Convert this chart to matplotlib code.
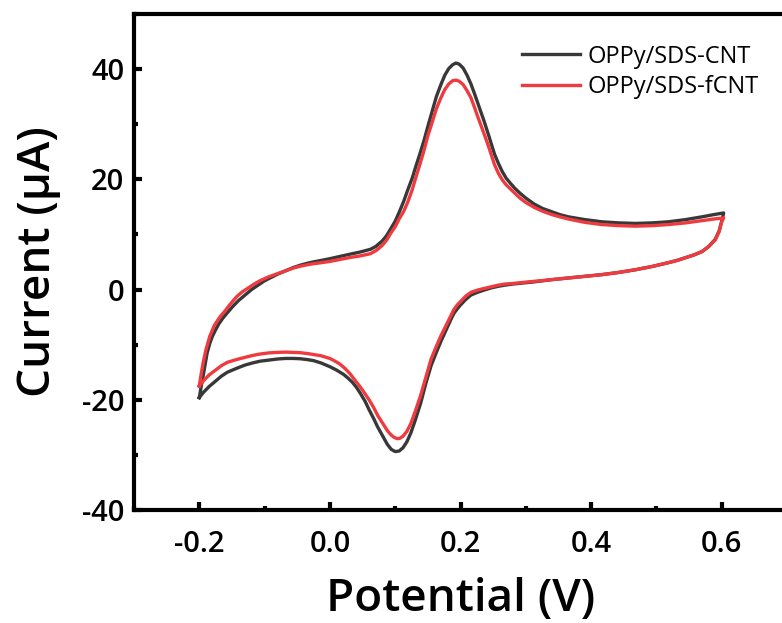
import matplotlib
matplotlib.use("Agg")
import matplotlib.pyplot as plt
from matplotlib.ticker import MultipleLocator

# ---- data ----
# OPPy/SDS-CNT : anodic (forward) sweep
cnt_fwd_potential = [-0.200, -0.197, -0.194, -0.191, -0.188, -0.184, -0.180, -0.175, -0.170, -0.164,
                     -0.157, -0.149, -0.140, -0.130, -0.120, -0.110, -0.100, -0.090, -0.080, -0.068,
                     -0.056, -0.043, -0.030, -0.015, 0.000, 0.015, 0.030, 0.046, 0.062, 0.070,
                     0.080, 0.087, 0.093, 0.100, 0.106, 0.113, 0.119, 0.126, 0.132, 0.138,
                     0.144, 0.150, 0.157, 0.163, 0.170, 0.176, 0.182, 0.188, 0.193, 0.198,
                     0.204, 0.210, 0.216, 0.221, 0.226, 0.231, 0.236, 0.242, 0.247, 0.252,
                     0.258, 0.264, 0.270, 0.277, 0.283, 0.291, 0.300, 0.313, 0.326, 0.340,
                     0.352, 0.365, 0.390, 0.416, 0.442, 0.468, 0.494, 0.519, 0.545, 0.570,
                     0.588, 0.603]
cnt_fwd_current = [-19.6, -17.5, -15.6, -13.5, -11.5, -9.8, -8.5, -7.3, -6.2, -5.2,
                   -4.2, -3.1, -2.0, -1.0, 0.0, 0.8, 1.6, 2.2, 2.8, 3.4,
                   4.0, 4.5, 4.9, 5.25, 5.6, 6.0, 6.4, 6.8, 7.3, 7.8,
                   8.8, 9.8, 11.0, 12.4, 14.0, 16.0, 18.0, 20.2, 22.5, 24.7,
                   27.0, 29.6, 32.5, 35.0, 37.2, 38.9, 40.1, 40.8, 41.1, 40.9,
                   40.2, 38.9, 37.3, 35.7, 34.0, 32.3, 30.6, 28.4, 26.5, 24.6,
                   22.9, 21.4, 20.2, 19.2, 18.4, 17.5, 16.6, 15.5, 14.7, 14.1,
                   13.6, 13.2, 12.7, 12.3, 12.1, 12.0, 12.1, 12.3, 12.7, 13.2,
                   13.6, 13.9]
# OPPy/SDS-CNT : cathodic (reverse) sweep
cnt_rev_potential = [0.600, 0.596, 0.590, 0.580, 0.570, 0.558, 0.545, 0.532, 0.519, 0.494,
                     0.468, 0.442, 0.416, 0.390, 0.365, 0.340, 0.313, 0.296, 0.280, 0.268,
                     0.258, 0.247, 0.236, 0.226, 0.216, 0.208, 0.200, 0.195, 0.190, 0.185,
                     0.180, 0.175, 0.170, 0.163, 0.155, 0.147, 0.139, 0.131, 0.124, 0.118,
                     0.112, 0.106, 0.100, 0.094, 0.088, 0.081, 0.073, 0.067, 0.060, 0.054,
                     0.047, 0.041, 0.035, 0.028, 0.021, 0.010, 0.000, -0.014, -0.025, -0.035,
                     -0.046, -0.056, -0.068, -0.080, -0.094, -0.107, -0.118, -0.130, -0.143, -0.157,
                     -0.166, -0.175, -0.185, -0.194, -0.200]
cnt_rev_current = [12.4, 10.6, 9.1, 7.8, 6.9, 6.3, 5.8, 5.3, 4.9, 4.2,
                   3.6, 3.1, 2.7, 2.4, 2.1, 1.8, 1.4, 1.2, 1.0, 0.8,
                   0.6, 0.3, -0.1, -0.5, -1.0, -1.8, -2.8, -3.5, -4.3, -5.5,
                   -6.8, -8.1, -9.4, -11.4, -13.8, -17.0, -20.6, -23.6, -26.0, -27.6,
                   -28.7, -29.3, -29.4, -29.0, -28.1, -26.6, -24.9, -23.4, -21.8, -20.3,
                   -18.9, -17.8, -16.9, -16.1, -15.4, -14.6, -14.0, -13.3, -12.9, -12.7,
                   -12.55, -12.5, -12.5, -12.6, -12.8, -13.0, -13.3, -13.7, -14.3, -15.0,
                   -15.7, -16.6, -17.6, -18.7, -19.6]

# OPPy/SDS-fCNT : anodic (forward) sweep
fcnt_fwd_potential = [-0.200, -0.197, -0.194, -0.190, -0.184, -0.177, -0.168, -0.160, -0.155, -0.148,
                      -0.142, -0.134, -0.125, -0.116, -0.107, -0.094, -0.080, -0.068, -0.056, -0.043,
                      -0.030, -0.015, 0.000, 0.015, 0.030, 0.046, 0.062, 0.071, 0.080, 0.087,
                      0.093, 0.100, 0.106, 0.113, 0.119, 0.126, 0.132, 0.138, 0.144, 0.150,
                      0.157, 0.163, 0.170, 0.176, 0.182, 0.188, 0.193, 0.198, 0.204, 0.210,
                      0.216, 0.221, 0.226, 0.231, 0.236, 0.242, 0.247, 0.252, 0.258, 0.264,
                      0.270, 0.277, 0.283, 0.291, 0.300, 0.313, 0.326, 0.340, 0.352, 0.365,
                      0.390, 0.416, 0.442, 0.468, 0.494, 0.519, 0.545, 0.570, 0.588, 0.603]
fcnt_fwd_current = [-17.5, -15.2, -13.2, -11.0, -8.5, -6.5, -4.9, -3.8, -3.0, -2.0,
                    -1.2, -0.4, 0.3, 1.0, 1.6, 2.3, 2.9, 3.4, 3.9, 4.3,
                    4.6, 4.85, 5.1, 5.45, 5.8, 6.1, 6.5, 7.1, 8.0, 9.0,
                    10.2, 11.4, 12.8, 14.2, 15.8, 18.1, 20.5, 22.8, 25.2, 27.9,
                    30.5, 32.8, 34.8, 36.3, 37.3, 37.9, 38.0, 37.8, 37.2, 36.1,
                    34.8, 33.2, 31.5, 29.9, 28.3, 26.3, 24.5, 22.7, 21.1, 19.9,
                    19.0, 18.2, 17.5, 16.6, 15.8, 14.9, 14.2, 13.6, 13.2, 12.8,
                    12.2, 11.8, 11.6, 11.5, 11.6, 11.8, 12.1, 12.5, 12.8, 13.0]
# OPPy/SDS-fCNT : cathodic (reverse) sweep
fcnt_rev_potential = [0.600, 0.596, 0.590, 0.580, 0.570, 0.558, 0.545, 0.532, 0.519, 0.494,
                      0.468, 0.442, 0.416, 0.390, 0.365, 0.340, 0.313, 0.296, 0.280, 0.268,
                      0.258, 0.247, 0.236, 0.226, 0.216, 0.208, 0.200, 0.195, 0.190, 0.185,
                      0.180, 0.175, 0.170, 0.163, 0.155, 0.147, 0.139, 0.131, 0.124, 0.118,
                      0.112, 0.107, 0.103, 0.098, 0.093, 0.088, 0.081, 0.073, 0.067, 0.060,
                      0.052, 0.046, 0.040, 0.031, 0.023, 0.015, 0.008, 0.000, -0.014, -0.025,
                      -0.035, -0.046, -0.056, -0.068, -0.080, -0.094, -0.107, -0.118, -0.130, -0.143,
                      -0.157, -0.166, -0.175, -0.185, -0.194, -0.200]
fcnt_rev_current = [12.3, 10.5, 9.0, 7.8, 6.9, 6.3, 5.8, 5.3, 4.9, 4.2,
                    3.6, 3.1, 2.7, 2.4, 2.1, 1.8, 1.5, 1.3, 1.1, 1.0,
                    0.8, 0.5, 0.2, -0.1, -0.5, -1.2, -2.2, -2.8, -3.6, -4.8,
                    -6.0, -7.2, -8.4, -10.3, -12.6, -15.9, -19.2, -22.0, -24.3, -25.7,
                    -26.6, -27.0, -27.05, -26.8, -26.3, -25.6, -24.3, -22.8, -21.4, -20.0,
                    -18.6, -17.6, -16.7, -15.3, -14.3, -13.5, -13.0, -12.5, -12.0, -11.8,
                    -11.6, -11.45, -11.4, -11.35, -11.4, -11.5, -11.7, -11.95, -12.3, -12.7,
                    -13.2, -13.8, -14.6, -15.5, -16.6, -17.5]

labels = ["OPPy/SDS-CNT", "OPPy/SDS-fCNT"]
colors = ["#383838", "#ef3b3f"]
x_ticks = [-0.2, 0.0, 0.2, 0.4, 0.6]
x_ticklabels = ["-0.2", "0.0", "0.2", "0.4", "0.6"]
y_ticks = [-40, -20, 0, 20, 40]
y_ticklabels = ["-40", "-20", "0", "20", "40"]

plt.rcParams['font.family'] = ['Open Sans', 'DejaVu Sans']

fig = plt.figure(figsize=(7.82, 6.23), dpi=100)
ax = fig.add_axes([134/782, 113/623, 653/782, 496/623])

ax.plot(cnt_fwd_potential + cnt_rev_potential, cnt_fwd_current + cnt_rev_current,
        color=colors[0], lw=2.4, label=labels[0], zorder=2, solid_joinstyle='round')
ax.plot(fcnt_fwd_potential + fcnt_rev_potential, fcnt_fwd_current + fcnt_rev_current,
        color=colors[1], lw=2.4, label=labels[1], zorder=3, solid_joinstyle='round')

ax.set_xlim(-0.3, 0.7)
ax.set_ylim(-40, 50)
ax.xaxis.set_minor_locator(MultipleLocator(0.1))
ax.yaxis.set_minor_locator(MultipleLocator(10))
ax.set_xticks(x_ticks)
ax.set_xticklabels(x_ticklabels)
ax.set_yticks(y_ticks)
ax.set_yticklabels(y_ticklabels)

for s in ax.spines.values():
    s.set_linewidth(3.0)
ax.tick_params(which='major', direction='in', length=6, width=3.0, labelsize=21)
ax.tick_params(axis='x', which='major', pad=14.5)
ax.tick_params(axis='y', which='major', pad=7)
ax.tick_params(which='minor', direction='in', length=3, width=3.0)
ax.tick_params(top=False, right=False, which='both')
for lab in ax.get_xticklabels() + ax.get_yticklabels():
    lab.set_fontweight('semibold')

ax.set_xlabel("Potential (V)", fontsize=33, fontweight='semibold', labelpad=13)
ax.set_ylabel("Current (μA)", fontsize=33, fontweight='semibold', labelpad=15)

leg = ax.legend(loc='upper left', bbox_to_anchor=(517/782, 1 - 40/623),
                bbox_transform=fig.transFigure, frameon=False, fontsize=17,
                handlelength=2.46, handletextpad=0.34, labelspacing=0.28,
                borderpad=0.2, borderaxespad=0)

fig.savefig("out.png", dpi=100)
